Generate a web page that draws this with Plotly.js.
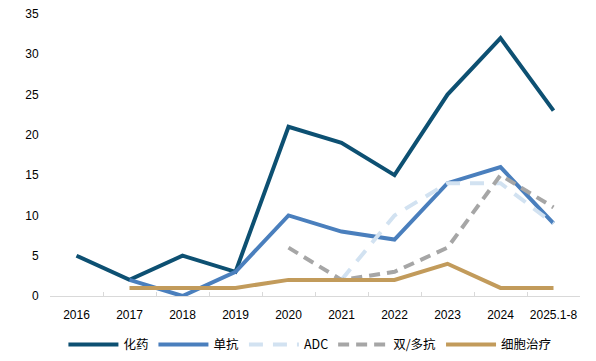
<!DOCTYPE html>
<html><head><meta charset="utf-8">
<script src="https://cdn.plot.ly/plotly-3.0.1.min.js"></script>
<style>html,body{margin:0;padding:0;background:#fff;}#chart{width:596px;height:361px;}</style>
</head><body><div id="chart"></div>
<script>
const categories = ["2016","2017","2018","2019","2020","2021","2022","2023","2024","2025.1-8"];
const chem = [5, 2, 5, 3, 21, 19, 15, 25, 32, 23];
const mab = [null, 2, 0, 3, 10, 8, 7, 14, 16, 9];
const adc = [null, null, null, null, null, 2, 10, 14, 14, 9];
const bispecific = [null, null, null, null, 6, 2, 3, 6, 15, 11];
const cell = [null, 1, 1, 1, 2, 2, 2, 4, 1, 1];
const yTicks = [0, 5, 10, 15, 20, 25, 30, 35];

function tr(name, y, color, dash) {
  return {x: categories, y: y, name: name, type: 'scatter', mode: 'lines',
    line: {color: color, width: 4, dash: dash || 'solid'}, connectgaps: false};
}
const data = [
  tr('化药', chem, '#0d5072'),
  tr('单抗', mab, '#4a7fbd'),
  tr('ADC', adc, '#d2e2f1', '14px,10px'),
  tr('双/多抗', bispecific, '#a6a6a6', '11px,7px'),
  tr('细胞治疗', cell, '#c29b5b')
];
const layout = {
  width: 596, height: 361,
  margin: {l: 50, r: 16, t: 14, b: 65},
  paper_bgcolor: '#fff', plot_bgcolor: '#fff',
  font: {family: 'Liberation Sans, Arial, Noto Sans CJK SC, sans-serif', size: 12, color: '#000'},
  showlegend: true,
  legend: {orientation: 'h', x: 0.52, xref: 'container', xanchor: 'center', y: 0.045, yref: 'container', yanchor: 'middle',
    font: {family: 'Noto Sans CJK SC, Liberation Sans, sans-serif', size: 12.5}, itemwidth: 50, traceorder: 'normal'},
  xaxis: {type: 'category', range: [-0.5, 9.5], showgrid: false, zeroline: false, showline: true, linecolor: '#d9d9d9', linewidth: 1,
    ticks: 'inside', tickson: 'boundaries', ticklen: 4, tickcolor: '#d9d9d9', tickangle: 0, ticklabelstandoff: 8,
    tickfont: {size: 12}, fixedrange: true, automargin: false},
  yaxis: {range: [0, 35], tickvals: yTicks, showgrid: false, zeroline: false, showline: false,
    ticks: 'outside', ticklen: 8, tickcolor: 'rgba(0,0,0,0)', tickfont: {size: 12}, fixedrange: true, automargin: false}
};
Plotly.newPlot('chart', data, layout, {displayModeBar: false, staticPlot: true});
</script></body></html>
